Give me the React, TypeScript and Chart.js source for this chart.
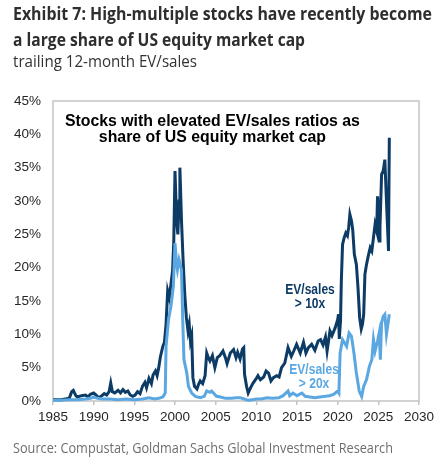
import { useEffect, useLayoutEffect, useRef } from "react";
import { Chart, registerables } from "chart.js";

Chart.register(...registerables);

// Share of US equity market cap (%) held by stocks with EV/sales > 10x
const dates10 = [
  1985.0, 1985.5, 1986.0, 1986.5, 1987.0, 1987.3, 1987.5, 1987.8, 1988.0, 1988.5,
  1989.0, 1989.3, 1989.6, 1990.0, 1990.3, 1990.6, 1991.0, 1991.3, 1991.6, 1991.9,
  1992.1, 1992.3, 1992.6, 1993.0, 1993.3, 1993.6, 1993.9, 1994.2, 1994.5, 1994.8,
  1995.1, 1995.4, 1995.7, 1996.0, 1996.3, 1996.5, 1996.8, 1997.1, 1997.3, 1997.6,
  1997.8, 1998.0, 1998.2, 1998.5, 1998.7, 1998.9, 1999.1, 1999.3, 1999.5, 1999.7,
  1999.85, 2000.0, 2000.2, 2000.35, 2000.5, 2000.6, 2000.8, 2001.0, 2001.2, 2001.4,
  2001.6, 2001.75, 2001.9, 2002.05, 2002.2, 2002.4, 2002.7, 2002.9, 2003.1, 2003.4,
  2003.7, 2003.9, 2004.1, 2004.3, 2004.6, 2004.9, 2005.2, 2005.5, 2005.9, 2006.2,
  2006.4, 2006.8, 2007.2, 2007.5, 2007.7, 2008.0, 2008.3, 2008.45, 2008.55, 2008.8,
  2009.0, 2009.3, 2009.6, 2009.9, 2010.2, 2010.5, 2010.9, 2011.2, 2011.5, 2011.8,
  2012.1, 2012.5, 2012.8, 2013.1, 2013.5, 2013.9, 2014.3, 2014.6, 2014.95, 2015.4,
  2015.8, 2016.1, 2016.4, 2016.8, 2017.2, 2017.6, 2017.9, 2018.2, 2018.5, 2018.7,
  2019.05, 2019.3, 2019.7, 2020.0, 2020.1, 2020.2, 2020.35, 2020.45, 2020.6, 2020.8,
  2021.0, 2021.2, 2021.35, 2021.5, 2021.7, 2021.85, 2022.05, 2022.3, 2022.5, 2022.7,
  2022.9, 2023.05, 2023.2, 2023.35, 2023.55, 2023.75, 2024.0, 2024.2, 2024.4, 2024.6,
  2024.8, 2024.9, 2025.0, 2025.1, 2025.2, 2025.4, 2025.6, 2025.8, 2025.95, 2026.1,
  2026.25, 2026.35,
];
const evSales10 = [
  0.2, 0.2, 0.2, 0.3, 0.4, 1.4, 1.6, 0.8, 0.6, 0.8,
  0.9, 0.6, 1.0, 1.2, 0.9, 0.5, 0.8, 1.1, 0.9, 1.4,
  2.7, 1.4, 1.2, 1.6, 1.2, 1.7, 1.3, 1.5, 0.9, 0.7,
  0.9, 1.4, 1.1, 2.2, 2.8, 2.0, 3.4, 2.6, 3.9, 4.5,
  3.8, 5.0, 6.6, 8.2, 8.8, 11.5, 16.5, 15.5, 17.5, 19.5,
  24.0, 34.5, 27.0, 25.0, 30.0, 35.0, 27.0, 21.0, 16.0, 12.5,
  10.5, 11.5, 9.0, 9.8, 3.5, 2.2, 1.8, 2.5, 3.0, 2.6,
  3.8, 7.2, 6.5, 6.0, 6.8, 5.0, 6.5, 6.8, 7.5, 6.5,
  5.6, 7.2, 7.7, 6.5, 7.3, 6.3, 7.8, 8.0, 4.0, 2.2,
  1.2, 2.0, 2.7, 3.2, 3.8, 3.2, 3.6, 4.5, 4.2, 3.0,
  3.5, 3.8, 3.6, 5.0, 5.7, 8.0, 6.7, 7.5, 8.5, 7.2,
  8.8, 7.2, 8.0, 8.5, 7.6, 9.0, 9.2, 8.4, 9.6, 7.5,
  10.5, 9.8, 11.0, 12.2, 13.0, 9.3, 12.0, 18.0, 23.5, 24.5,
  25.2, 24.8, 26.0, 28.0, 27.0, 25.7, 22.0, 20.5, 17.0, 12.5,
  10.8, 11.5, 13.0, 19.0, 20.5, 21.7, 23.0, 22.5, 24.5, 26.5,
  25.5, 30.7, 29.0, 24.0, 26.0, 34.0, 34.5, 36.2, 31.5, 27.0,
  22.5, 39.5,
];

// Share of US equity market cap (%) held by stocks with EV/sales > 20x
const dates20 = [
  1985.0, 1986.0, 1987.0, 1988.0, 1989.0, 1989.6, 1990.0, 1990.5, 1991.0, 1992.0,
  1993.0, 1994.0, 1995.0, 1996.0, 1996.8, 1997.5, 1998.0, 1998.5, 1998.8, 1998.9,
  1999.2, 1999.5, 1999.8, 2000.0, 2000.2, 2000.3, 2000.5, 2000.8, 2000.95, 2001.1,
  2001.45, 2001.65, 2002.05, 2002.5, 2003.1, 2003.6, 2003.9, 2004.3, 2004.5, 2005.1,
  2005.6, 2006.2, 2007.0, 2007.5, 2008.0, 2008.5, 2009.0, 2009.5, 2010.0, 2010.6,
  2011.3, 2012.0, 2012.8, 2013.3, 2013.9, 2014.1, 2014.5, 2015.0, 2015.6, 2016.0,
  2016.6, 2017.2, 2017.8, 2018.5, 2019.0, 2019.5, 2020.0, 2020.15, 2020.3, 2020.6,
  2021.1, 2021.4, 2021.7, 2022.0, 2022.3, 2022.65, 2022.95, 2023.2, 2023.55, 2023.9,
  2024.2, 2024.4, 2024.6, 2024.9, 2025.1, 2025.25, 2025.4, 2025.6, 2025.8, 2026.0,
  2026.35,
];
const evSales20 = [
  0.1, 0.1, 0.2, 0.2, 0.3, 0.4, 0.6, 0.4, 0.3, 0.3,
  0.2, 0.3, 0.2, 0.3, 0.5, 0.3, 0.4, 0.6, 1.2, 8.2,
  12.2, 14.2, 17.2, 23.7, 20.5, 19.7, 21.2, 19.7, 12.2, 6.2,
  4.2, 2.2, 1.2, 0.7, 0.5, 0.7, 1.5, 1.3, 1.5, 0.7,
  0.6, 0.4, 0.4, 0.5, 0.5, 0.3, 0.1, 0.2, 0.3, 0.3,
  0.5, 0.4, 0.5, 0.8, 1.5, 0.8, 1.2, 0.8, 1.2, 0.7,
  0.6, 0.5, 0.6, 0.7, 0.8, 1.0, 1.5, 1.2, 7.2, 9.2,
  8.2, 10.2, 9.7, 7.2, 4.2, 1.5, 0.7, 2.2, 3.2, 5.2,
  6.2, 9.2, 7.5, 9.0, 10.2, 6.2, 11.7, 12.7, 13.0, 10.0,
  13.0,
];

const DARK = "#0c3b66";
const LIGHT = "#5aa7e1";
const FRAME = "#c4c4c4";
const TICK_TEXT = "#262626";
const ARIAL = "Arial, 'Liberation Sans', sans-serif";
const HUMANIST = "'Open Sans', 'Noto Sans', sans-serif";

const toPoints = (xs: number[], ys: number[]) => xs.map((x, i) => ({ x, y: ys[i] }));

// Border around the plotting area
const framePlugin = {
  id: "frame",
  beforeDatasetsDraw(chart: any) {
    const { ctx, chartArea: a } = chart;
    ctx.save();
    ctx.strokeStyle = FRAME;
    ctx.lineWidth = 1.5;
    ctx.strokeRect(a.left, a.top, a.right - a.left, a.bottom - a.top);
    ctx.restore();
  },
};

// Text placed inside the plotting area, anchored to data coordinates
function drawText(ctx: CanvasRenderingContext2D, text: string, x: number, y: number, font: string, color: string, sx: number) {
  ctx.save();
  ctx.font = font;
  ctx.fillStyle = color;
  ctx.textAlign = "center";
  ctx.textBaseline = "alphabetic";
  ctx.translate(x, y);
  ctx.scale(sx, 1);
  ctx.fillText(text, 0, 0);
  ctx.restore();
}

const notesPlugin = {
  id: "notes",
  afterDatasetsDraw(chart: any) {
    const { ctx } = chart;
    const xs = chart.scales.x;
    const ys = chart.scales.y;
    const px = (v: number) => xs.getPixelForValue(v);
    const py = (v: number) => ys.getPixelForValue(v);
    const head = `bold 16px ${ARIAL}`;
    drawText(ctx, "Stocks with elevated EV/sales ratios as", px(2004.6), py(41.3), head, "#000", 0.99);
    drawText(ctx, "share of US equity market cap", px(2004.6), py(38.8), head, "#000", 0.99);
    const lab = `bold 14px ${ARIAL}`;
    drawText(ctx, "EV/sales", px(2016.6), py(16.0), lab, DARK, 0.86);
    drawText(ctx, "> 10x", px(2016.6), py(14.0), lab, DARK, 0.86);
    drawText(ctx, "EV/sales", px(2017.1), py(4.0), lab, LIGHT, 0.86);
    drawText(ctx, "> 20x", px(2017.1), py(1.9), lab, LIGHT, 0.86);
  },
};

// A single line of text squeezed horizontally to a given width
function FitLine(props: { text: string; left: number; top: number; width: number; style: any }) {
  const ref = useRef<HTMLDivElement>(null);
  useLayoutEffect(() => {
    const el = ref.current!;
    el.style.transform = "none";
    const w = el.getBoundingClientRect().width;
    if (w > 0) el.style.transform = `scaleX(${props.width / w})`;
  }, [props.text, props.width]);
  return (
    <div
      ref={ref}
      style={{
        position: "absolute",
        left: props.left,
        top: props.top,
        whiteSpace: "nowrap",
        transformOrigin: "0 0",
        ...props.style,
      }}
    >
      {props.text}
    </div>
  );
}

export default function App() {
  const canvasRef = useRef<HTMLCanvasElement>(null);

  useEffect(() => {
    const chart = new Chart(canvasRef.current!, {
      type: "line",
      data: {
        datasets: [
          {
            label: "EV/sales > 10x",
            data: toPoints(dates10, evSales10),
            borderColor: DARK,
            borderWidth: 3,
            pointRadius: 0,
            tension: 0,
            clip: 6,
            order: 1,
          },
          {
            label: "EV/sales > 20x",
            data: toPoints(dates20, evSales20),
            borderColor: LIGHT,
            borderWidth: 3,
            pointRadius: 0,
            tension: 0,
            clip: 6,
            order: 0,
          },
        ],
      },
      options: {
        animation: false,
        responsive: false,
        events: [],
        layout: { padding: { left: 0, top: 101, right: 22, bottom: 0 } },
        plugins: { legend: { display: false }, tooltip: { enabled: false }, title: { display: false } },
        scales: {
          x: {
            type: "linear",
            min: 1985,
            max: 2030,
            ticks: {
              stepSize: 5,
              autoSkip: false,
              maxRotation: 0,
              padding: 4,
              color: TICK_TEXT,
              font: { family: ARIAL, size: 13.5 },
              callback: (v: any) => String(v),
            },
            grid: { drawOnChartArea: false, drawTicks: true, tickLength: 4, color: FRAME, lineWidth: 1.5 },
            border: { display: false },
            afterFit: (s: any) => {
              s.height = 68;
            },
          },
          y: {
            min: 0,
            max: 45,
            ticks: {
              stepSize: 5,
              padding: 12,
              color: TICK_TEXT,
              font: { family: ARIAL, size: 13.5 },
              callback: (v: any) => `${v}%`,
            },
            grid: { display: false, drawTicks: false },
            border: { display: false },
            afterFit: (s: any) => {
              s.width = 53;
            },
          },
        },
      },
      plugins: [framePlugin, notesPlugin],
    } as any);
    return () => chart.destroy();
  }, []);

  const titleStyle = { fontFamily: HUMANIST, fontWeight: 700, fontSize: 17, lineHeight: "26px", color: "#2e2e2e" };
  return (
    <div style={{ position: "fixed", left: 0, top: 0, width: 441, height: 469, background: "#fff", overflow: "hidden" }}>
      <canvas ref={canvasRef} width={441} height={469} style={{ position: "absolute", left: 0, top: 0, width: 441, height: 469 }} />
      <FitLine text="Exhibit 7: High-multiple stocks have recently become" left={13} top={1} width={419} style={titleStyle} />
      <FitLine text="a large share of US equity market cap" left={13} top={27} width={292} style={titleStyle} />
      <FitLine
        text="trailing 12-month EV/sales"
        left={13}
        top={51}
        width={184}
        style={{ fontFamily: HUMANIST, fontWeight: 400, fontSize: 16, lineHeight: "20px", color: "#333" }}
      />
      <FitLine
        text="Source: Compustat, Goldman Sachs Global Investment Research"
        left={13}
        top={437}
        width={380}
        style={{ fontFamily: HUMANIST, fontWeight: 400, fontSize: 15, lineHeight: "20px", color: "#6e6e6e" }}
      />
    </div>
  );
}
